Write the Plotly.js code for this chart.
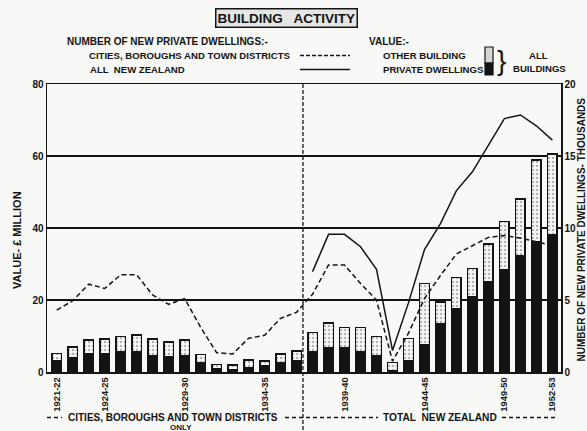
<!DOCTYPE html>
<html>
<head>
<meta charset="utf-8">
<script src="https://cdn.plot.ly/plotly-3.0.1.min.js"></script>
<style>
html,body{margin:0;padding:0;background:#f8f8f6;}
#chart{width:587px;height:431px;}
</style>
</head>
<body>
<div id="chart"></div>
<script>
// ---- DATA ----
const yearLabels = ["1921-22","1922-23","1923-24","1924-25","1925-26","1926-27","1927-28","1928-29",
  "1929-30","1930-31","1931-32","1932-33","1933-34","1934-35","1935-36","1936-37",
  "1937-38","1938-39","1939-40","1940-41","1941-42","1942-43","1943-44","1944-45",
  "1945-46","1946-47","1947-48","1948-49","1949-50","1950-51","1951-52","1952-53"];
const shownTickLabels = ["1921-22","1924-25","1929-30","1934-35","1939-40","1944-45","1949-50","1952-53"];
// Value, £ million
const privateDwellingsValue = [3.2,3.9,5.0,5.0,5.6,5.6,4.4,4.2,4.4,2.6,0.8,0.6,1.3,1.6,2.5,3.0,
  5.5,6.8,6.7,5.6,4.5,0.4,3.0,7.6,13.5,17.5,20.9,25.1,28.3,32.3,36.2,38.0];
const otherBuildingValue = [2.0,3.1,3.9,4.1,4.2,4.7,4.7,4.2,4.5,2.3,1.3,1.3,2.0,1.4,2.5,2.9,
  5.5,6.8,5.7,6.7,5.3,2.3,6.3,17.0,6.0,8.8,7.9,10.5,13.5,15.7,22.7,22.6];
// Number of new private dwellings, thousands
const citiesDwellings = [4.3,4.95,6.1,5.8,6.75,6.75,5.35,4.7,5.1,3.1,1.34,1.25,2.34,2.55,3.73,4.15,
  5.4,7.43,7.43,6.15,5.0,0.75,2.7,5.1,6.7,8.2,8.77,9.35,9.47,9.3,9.05,8.77];
const allNZYears = ["1937-38","1938-39","1939-40","1940-41","1941-42","1942-43","1943-44","1944-45",
  "1945-46","1946-47","1947-48","1948-49","1949-50","1950-51","1951-52","1952-53"];
const allNZDwellings = [6.97,9.56,9.56,8.7,7.13,1.5,4.8,8.5,10.3,12.6,13.9,15.8,17.6,17.85,17.1,16.1];

// ---- helpers ----
const idx = yearLabels.map((_, i) => i);
const allNZIdx = allNZYears.map(y => yearLabels.indexOf(y));
const tickVals = shownTickLabels.map(y => yearLabels.indexOf(y));

const L = 47, T = 84, W = 514, H = 288;
const px = x => (x - L) / W;
const py = y => (T + H - y) / H;
const INK = '#141414';
const FONT = 'Liberation Sans, Arial, sans-serif';
const f = (size, weight) => ({family: FONT, size: size, color: INK, weight: weight || 'bold'});

const traces = [
  {type: 'bar', x: idx, y: privateDwellingsValue, width: 0.6,
   marker: {color: INK, line: {color: INK, width: 1.5}}, hoverinfo: 'skip', showlegend: false},
  {type: 'bar', x: idx, y: otherBuildingValue, width: 0.6,
   marker: {color: '#f4f4f2', line: {color: INK, width: 1.5},
            pattern: {shape: '.', fgcolor: '#9a9a9a', bgcolor: '#f4f4f2', size: 4, solidity: 0.2}},
   hoverinfo: 'skip', showlegend: false},
  {type: 'scatter', mode: 'lines', x: idx, y: citiesDwellings, yaxis: 'y2',
   line: {color: INK, width: 1.5, dash: '5px,3px'}, hoverinfo: 'skip', showlegend: false},
  {type: 'scatter', mode: 'lines', x: allNZIdx, y: allNZDwellings, yaxis: 'y2',
   line: {color: INK, width: 1.5}, hoverinfo: 'skip', showlegend: false}
];

const ann = [];
function t(text, x, y, size, xanchor, extra) {
  ann.push(Object.assign({text: text, xref: 'paper', yref: 'paper', x: px(x), y: py(y),
    xanchor: xanchor || 'left', yanchor: 'middle', showarrow: false, font: f(size)}, extra || {}));
}
// title
t('BUILDING   ACTIVITY', 286, 17.5, 13.5, 'center',
  {bordercolor: INK, borderwidth: 1.5, borderpad: 1, bgcolor: '#e6e6e4'});
// legend texts
t('NUMBER OF NEW PRIVATE DWELLINGS:-', 65, 41.5, 10);
t('CITIES, BOROUGHS AND TOWN DISTRICTS', 87, 55.5, 9.6);
t('ALL  NEW ZEALAND', 88, 70, 9.6);
t('VALUE:-', 367, 41.5, 10);
t('OTHER BUILDING', 381, 55.5, 9.6);
t('PRIVATE DWELLINGS', 381, 70, 9.6);
t('}', 495, 61, 28, 'left', {font: f(28, 'normal')});
t('ALL', 538, 55, 9.6, 'center');
t('BUILDINGS', 539, 68, 9.6, 'center');
// axis titles
t('VALUE- £ MILLION', 17, 240, 11, 'center', {textangle: -90});
t('NUMBER OF NEW PRIVATE DWELLINGS- THOUSANDS', 580.5, 230, 10, 'center', {textangle: -90});
// bottom group labels
t('CITIES, BOROUGHS AND TOWN DISTRICTS', 173, 417.5, 10, 'center');
t('ONLY', 181, 427.5, 8, 'center');
t('TOTAL  NEW ZEALAND', 440, 417.5, 10.2, 'center');

const lead = {color: INK, width: 1.3, dash: '4px,3px'};
const shapes = [
  // divider
  {type: 'line', xref: 'x', yref: 'paper', x0: 15.4, x1: 15.4, y0: 1, y1: py(432),
   line: {color: INK, width: 1.3, dash: '4px,2px'}},
  // bottom leaders
  {type: 'line', xref: 'paper', yref: 'paper', x0: px(47), x1: px(62), y0: py(417.5), y1: py(417.5), line: lead},
  {type: 'line', xref: 'paper', yref: 'paper', x0: px(285), x1: px(378), y0: py(417.5), y1: py(417.5), line: lead},
  {type: 'line', xref: 'paper', yref: 'paper', x0: px(502), x1: px(558), y0: py(417.5), y1: py(417.5), line: lead},
  // legend line samples
  {type: 'line', xref: 'paper', yref: 'paper', x0: px(300), x1: px(350), y0: py(55.5), y1: py(55.5),
   line: {color: INK, width: 1.3, dash: '4px,2px'}},
  {type: 'line', xref: 'paper', yref: 'paper', x0: px(300), x1: px(350), y0: py(69.5), y1: py(69.5),
   line: {color: INK, width: 1.4}},
  // legend bar swatch
  {type: 'rect', xref: 'paper', yref: 'paper', x0: px(485), x1: px(493), y0: py(63), y1: py(47),
   fillcolor: '#d6d6d4', line: {color: INK, width: 1.2}},
  {type: 'rect', xref: 'paper', yref: 'paper', x0: px(485), x1: px(493), y0: py(75), y1: py(63),
   fillcolor: INK, line: {color: INK, width: 1.2}}
];

const layout = {
  width: 587, height: 431,
  margin: {l: L, r: 587 - L - W, t: T, b: 431 - T - H, pad: 0},
  paper_bgcolor: '#f8f8f6', plot_bgcolor: '#f8f8f6',
  barmode: 'stack', bargap: 0.4,
  showlegend: false,
  xaxis: {range: [-0.61, 31.54], tickmode: 'array', tickvals: tickVals, ticktext: shownTickLabels,
          tickangle: -90, tickfont: f(9.4), showgrid: false, zeroline: false,
          showline: true, linecolor: INK, linewidth: 1.5, mirror: true, ticks: '', fixedrange: true},
  yaxis: {range: [0, 80], tickvals: [0, 20, 40, 60, 80], tickfont: f(10), showgrid: true,
          gridcolor: INK, gridwidth: 1.4, zeroline: false, showline: true, linecolor: INK,
          linewidth: 1.5, ticks: '', fixedrange: true},
  yaxis2: {range: [0, 20], tickvals: [0, 5, 10, 15, 20], tickfont: f(10), overlaying: 'y',
           side: 'right', showgrid: false, zeroline: false, showline: true, linecolor: INK,
           linewidth: 1.5, ticks: '', fixedrange: true},
  annotations: ann,
  shapes: shapes
};

Plotly.newPlot('chart', traces, layout, {staticPlot: true, displayModeBar: false});
</script>
</body>
</html>
